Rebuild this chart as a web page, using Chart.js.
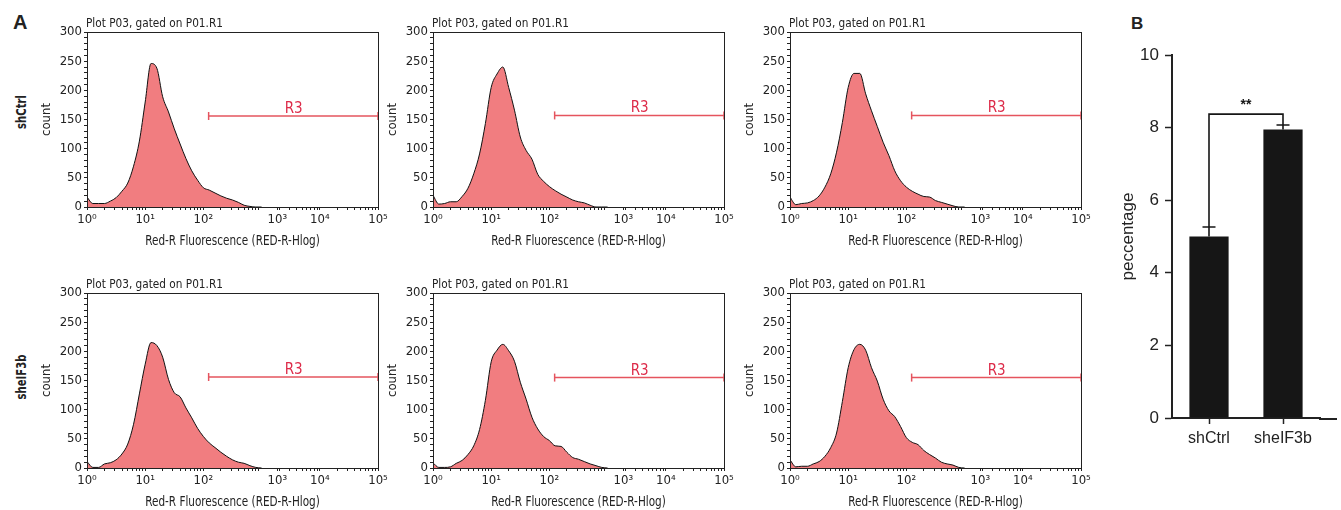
<!DOCTYPE html>
<html>
<head>
<meta charset="utf-8">
<script src="https://cdn.jsdelivr.net/npm/chart.js@4.4.1/dist/chart.umd.min.js"></script>
<style>
html, body { margin: 0; padding: 0; background: #fff; }
#wrap { position: relative; width: 1341px; height: 510px; overflow: hidden; color: #222;
        font-family: "Liberation Sans Narrow", "DejaVu Sans Condensed", sans-serif; }
#wrap canvas { position: absolute; }
.lbl { position: absolute; white-space: nowrap; line-height: 1; }
.rot { transform: translate(-50%, -50%) rotate(-90deg) scaleX(0.8); }
</style>
</head>
<body>
<div id="wrap">
    <div class="lbl" style="left:13px;top:11px;font:bold 20px 'Liberation Sans',sans-serif;">A</div>
    <div class="lbl" style="left:1131px;top:14px;font:bold 17px 'Liberation Sans',sans-serif;">B</div>
    <div class="lbl rot" style="left:21px;top:112px;font-weight:bold;font-size:14px;">shCtrl</div>
    <div class="lbl rot" style="left:21px;top:377px;font-weight:bold;font-size:14px;">sheIF3b</div>
</div>
<script>
// data
var xGrid = [0, 0.1, 0.2, 0.3, 0.4, 0.5, 0.6, 0.7, 0.8, 0.9, 1.0, 1.1, 1.2, 1.3, 1.4, 1.5,
    1.6, 1.7, 1.8, 1.9, 2.0, 2.1, 2.2, 2.3, 2.4, 2.5, 2.6, 2.7, 2.8, 2.9, 3.0];

var shCtrlCounts1 = [17, 6, 6, 6, 10, 16, 27, 41, 70, 113, 180, 246, 238, 189, 163, 134,
    108, 83, 62, 46, 33, 29, 24, 19, 15, 12, 8, 3, 1, 0, 0];
var shCtrlCounts2 = [20, 5, 6, 9, 9, 18, 32, 57, 91, 143, 205, 228, 240, 205, 166, 120,
    97, 82, 56, 44, 35, 28, 22, 17, 12, 9, 7, 3, 0, 0, 0];
var shCtrlCounts3 = [17, 4, 6, 7, 11, 19, 34, 57, 94, 145, 205, 229, 229, 194, 165, 138,
    111, 88, 62, 45, 34, 27, 22, 18, 17, 11, 8, 5, 2, 0, 0];
var sheIF3bCounts1 = [11, 1, 1, 7, 9, 14, 24, 41, 75, 127, 178, 215, 210, 190, 152, 129,
    122, 103, 86, 68, 54, 43, 35, 27, 20, 14, 10, 8, 4, 1, 0];
var sheIF3bCounts2 = [9, 1, 1, 2, 8, 13, 23, 38, 66, 116, 182, 202, 212, 201, 183, 147,
    118, 87, 67, 54, 47, 38, 37, 27, 18, 15, 11, 7, 4, 1, 0];
var sheIF3bCounts3 = [14, 2, 3, 3, 7, 11, 20, 35, 60, 114, 172, 203, 212, 202, 172, 149,
    118, 98, 88, 71, 52, 44, 40, 30, 23, 17, 10, 7, 5, 1, 0];

var gateStart = 2.09;
var gateEnd = 5;
var gateLevels = [156, 157, 157, 156, 155, 155];
var gateName = 'R3';

var xTickVals = [0, 1, 2, 3.27, 4, 5];
var xTickLabels = ['10\u2070', '10\u00b9', '10\u00b2', '10\u00b3', '10\u2074', '10\u2075'];
var plotTitle = 'Plot P03, gated on P01.R1';
var xTitle = 'Red-R Fluorescence (RED-R-Hlog)';

var barLabels = ['shCtrl', 'sheIF3b'];
var barMeans = [5.0, 7.95];
var barErrors = [0.26, 0.12];
var bracketLevel = 8.37;
var sigText = '**';

// styles
var narrow = '"Liberation Sans Narrow", "DejaVu Sans Condensed", sans-serif';
var sans = '"Liberation Sans", Arial, sans-serif';
var ink = '#222';
var histFill = '#f17d80';
var gateColor = '#e5545e';
var gateTextColor = '#dd2b49';
var barColor = '#161616';

Chart.defaults.font.family = narrow;
Chart.defaults.color = ink;

// helpers
var wrap = document.getElementById('wrap');

function addCanvas(left, top, w, h) {
    var c = document.createElement('canvas');
    c.width = w;
    c.height = h;
    c.style.left = left + 'px';
    c.style.top = top + 'px';
    c.style.width = w + 'px';
    c.style.height = h + 'px';
    wrap.appendChild(c);
    return c;
}

// text squeezed sideways, the installed condensed face is wider than the original
function squeezedText(ctx, text, x, y, sx) {
    ctx.save();
    ctx.translate(x, y);
    ctx.scale(sx, 1);
    ctx.fillText(text, 0, 0);
    ctx.restore();
}

// frame, titles and gate name for each histogram
var histDecor = {
    id: 'histDecor',
    afterDraw: function (chart) {
        var ctx = chart.ctx, area = chart.chartArea;
        var x = chart.scales.x, y = chart.scales.y;
        var level = chart.options.plugins.histDecor.level;

        ctx.save();
        ctx.strokeStyle = ink;
        ctx.lineWidth = 1;
        ctx.strokeRect(Math.round(area.left) + 0.5, Math.round(area.top) + 0.5,
            Math.round(area.width), Math.round(area.height));

        ctx.fillStyle = ink;
        ctx.font = '13px ' + narrow;
        ctx.textBaseline = 'alphabetic';
        ctx.textAlign = 'left';
        squeezedText(ctx, plotTitle, area.left - 1, area.top - 5, 0.9);

        ctx.font = '14px ' + narrow;
        ctx.textAlign = 'center';
        squeezedText(ctx, xTitle, (area.left + area.right) / 2, area.bottom + 38, 0.83);

        ctx.fillStyle = gateTextColor;
        ctx.font = '15px ' + narrow;
        ctx.fillText(gateName, x.getPixelForValue(3.55), y.getPixelForValue(level) - 3);
        ctx.restore();
    }
};

function makeHist(left, top, counts, level) {
    var canvas = addCanvas(left - 57, top - 32, 360, 252);
    var points = xGrid.map(function (x, i) {
        return { x: x, y: counts[i] };
    });

    return new Chart(canvas, {
        type: 'line',
        data: {
            datasets: [
                {
                    data: points,
                    fill: 'origin',
                    backgroundColor: histFill,
                    borderColor: '#111',
                    borderWidth: 1,
                    pointRadius: 0,
                    cubicInterpolationMode: 'monotone'
                },
                {
                    data: [{ x: gateStart, y: level }, { x: gateEnd, y: level }],
                    borderColor: gateColor,
                    borderWidth: 1.5,
                    fill: false,
                    pointStyle: 'line',
                    rotation: 90,
                    pointRadius: 4,
                    pointBorderColor: gateColor,
                    pointBorderWidth: 1.5,
                    clip: false
                }
            ]
        },
        options: {
            responsive: false,
            animation: false,
            events: [],
            layout: { padding: { top: 32, right: 12, left: 0, bottom: 0 } },
            plugins: {
                legend: { display: false },
                tooltip: { enabled: false },
                histDecor: { level: level }
            },
            scales: {
                x: {
                    type: 'linear',
                    min: 0,
                    max: 5,
                    afterFit: function (s) { s.height = 45; },
                    afterBuildTicks: function (s) {
                        var ticks = xTickVals.map(function (v) { return { value: v }; });
                        // log minor ticks
                        for (var d = 0; d < 5; d++) {
                            for (var k = 2; k < 10; k++) {
                                ticks.push({ value: d + Math.log10(k) });
                            }
                        }
                        ticks.sort(function (a, b) { return a.value - b.value; });
                        s.ticks = ticks;
                    },
                    ticks: {
                        autoSkip: false,
                        maxRotation: 0,
                        padding: 2,
                        font: { size: 13 },
                        callback: function (v) {
                            var i = xTickVals.indexOf(v);
                            return i >= 0 ? xTickLabels[i] : '';
                        }
                    },
                    grid: { drawOnChartArea: false, tickLength: 3, color: ink },
                    border: { color: ink }
                },
                y: {
                    min: 0,
                    max: 300,
                    afterFit: function (s) { s.width = 57; },
                    ticks: {
                        stepSize: 10,
                        autoSkip: false,
                        padding: 2,
                        font: { size: 13 },
                        callback: function (v) {
                            return v % 50 === 0 ? v : '';
                        }
                    },
                    grid: { drawOnChartArea: false, tickLength: 3, color: ink },
                    border: { color: ink },
                    title: {
                        display: true,
                        text: 'count',
                        font: { size: 13 },
                        padding: { top: 9, bottom: 0 }
                    }
                }
            }
        },
        plugins: [histDecor]
    });
}

// error bars, significance bracket and axis tail for the bar chart
var barDecor = {
    id: 'barDecor',
    afterDraw: function (chart) {
        var ctx = chart.ctx, area = chart.chartArea;
        var x = chart.scales.x, y = chart.scales.y;
        var xs = [], tops = [];

        ctx.save();
        ctx.strokeStyle = barColor;
        ctx.lineWidth = 1.6;

        barMeans.forEach(function (m, i) {
            var cx = x.getPixelForValue(i);
            var yTop = y.getPixelForValue(m + barErrors[i]);
            xs.push(cx);
            tops.push(yTop);
            ctx.beginPath();
            ctx.moveTo(cx, y.getPixelForValue(m));
            ctx.lineTo(cx, yTop);
            ctx.moveTo(cx - 6.5, yTop);
            ctx.lineTo(cx + 6.5, yTop);
            ctx.stroke();
        });

        var yb = y.getPixelForValue(bracketLevel);
        ctx.beginPath();
        ctx.moveTo(xs[0], tops[0]);
        ctx.lineTo(xs[0], yb);
        ctx.lineTo(xs[1], yb);
        ctx.lineTo(xs[1], tops[1]);
        ctx.stroke();

        ctx.fillStyle = barColor;
        ctx.font = 'bold 14px ' + sans;
        ctx.textAlign = 'center';
        ctx.textBaseline = 'alphabetic';
        ctx.fillText(sigText, (xs[0] + xs[1]) / 2, yb - 5);

        // x axis runs on past the last bar
        ctx.strokeStyle = ink;
        ctx.lineWidth = 2;
        ctx.beginPath();
        ctx.moveTo(area.right - 1, area.bottom + 1);
        ctx.lineTo(chart.width - 4, area.bottom + 1);
        ctx.stroke();
        ctx.restore();
    }
};

function makeBars() {
    var canvas = addCanvas(1100, 0, 241, 470);

    return new Chart(canvas, {
        type: 'bar',
        data: {
            labels: barLabels,
            datasets: [{
                data: barMeans,
                backgroundColor: barColor,
                barPercentage: 0.53,
                categoryPercentage: 1
            }]
        },
        options: {
            responsive: false,
            animation: false,
            events: [],
            layout: { padding: { top: 55, right: 21, left: 0, bottom: 0 } },
            plugins: {
                legend: { display: false },
                tooltip: { enabled: false }
            },
            scales: {
                x: {
                    afterFit: function (s) { s.height = 52; },
                    grid: { offset: false, drawOnChartArea: false, tickLength: 6, tickWidth: 1.5, color: ink },
                    border: { color: ink, width: 2 },
                    ticks: { padding: 5, font: { family: sans, size: 16 } }
                },
                y: {
                    min: 0,
                    max: 10,
                    afterFit: function (s) { s.width = 72; },
                    ticks: { stepSize: 2, padding: 6, font: { family: sans, size: 17 } },
                    grid: { drawOnChartArea: false, tickLength: 7, tickWidth: 1.5, color: ink },
                    border: { color: ink, width: 2 },
                    title: {
                        display: true,
                        text: 'peccentage',
                        font: { family: sans, size: 17 },
                        padding: { top: 18, bottom: 0 }
                    }
                }
            }
        },
        plugins: [barDecor]
    });
}

// build everything
var panelLefts = [87, 433, 790];
var panelTops = [32, 293];
var allCounts = [shCtrlCounts1, shCtrlCounts2, shCtrlCounts3,
    sheIF3bCounts1, sheIF3bCounts2, sheIF3bCounts3];

for (var i = 0; i < allCounts.length; i++) {
    makeHist(panelLefts[i % 3], panelTops[Math.floor(i / 3)], allCounts[i], gateLevels[i]);
}
makeBars();
</script>
</body>
</html>
